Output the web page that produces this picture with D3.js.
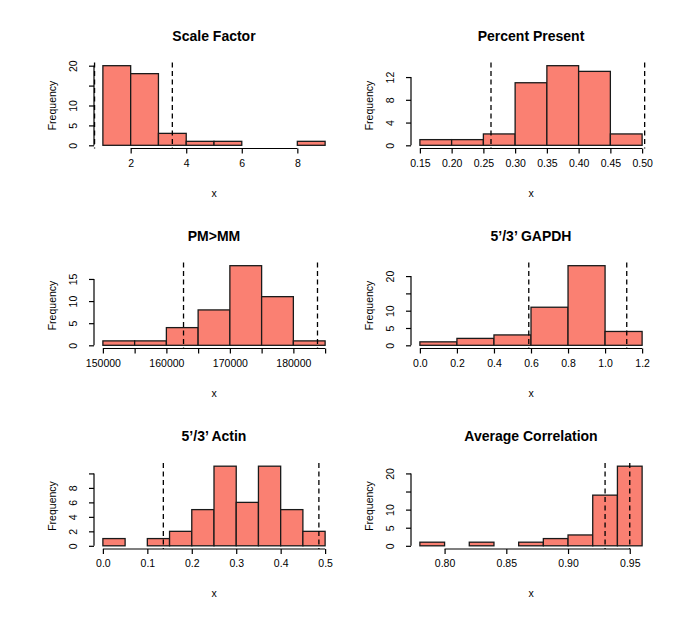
<!DOCTYPE html>
<html>
<head>
<meta charset="utf-8">
<script src="https://cdn.jsdelivr.net/npm/d3@7"></script>
<style>
  html, body { margin: 0; padding: 0; background: #fff; }
  svg { display: block; }
  text { font-family: "Liberation Sans", Arial, Helvetica, sans-serif; fill: #000; }
</style>
</head>
<body>
<svg id="chart" width="685" height="622"></svg>
<script>
// ---- Data ----
const titles = ["Scale Factor", "Percent Present", "PM>MM", "5’/3’ GAPDH", "5’/3’ Actin", "Average Correlation"];

const sfBreaks = [1, 2, 3, 4, 5, 6, 7, 8, 9];
const sfCounts = [20, 18, 3, 1, 1, 0, 0, 1];
const sfLines = [0.7, 3.5];
const sfXTicks = [2, 4, 6, 8];
const sfXLabels = ["2", "4", "6", "8"];
const sfYTicks = [0, 5, 10, 15, 20];
const sfYLabels = ["0", "5", "10", "", "20"];

const ppBreaks = [0.15, 0.20, 0.25, 0.30, 0.35, 0.40, 0.45, 0.50];
const ppCounts = [1, 1, 2, 11, 14, 13, 2];
const ppLines = [0.262, 0.504];
const ppXTicks = [0.15, 0.20, 0.25, 0.30, 0.35, 0.40, 0.45, 0.50];
const ppXLabels = ["0.15", "0.20", "0.25", "0.30", "0.35", "0.40", "0.45", "0.50"];
const ppYTicks = [0, 4, 8, 12];
const ppYLabels = ["0", "4", "8", "12"];

const pmBreaks = [150000, 155000, 160000, 165000, 170000, 175000, 180000, 185000];
const pmCounts = [1, 1, 4, 8, 18, 11, 1];
const pmLines = [162700, 183800];
const pmXTicks = [150000, 155000, 160000, 165000, 170000, 175000, 180000, 185000];
const pmXLabels = ["150000", "", "160000", "", "170000", "", "180000", ""];
const pmYTicks = [0, 5, 10, 15];
const pmYLabels = ["0", "5", "10", "15"];

const gaBreaks = [0.0, 0.2, 0.4, 0.6, 0.8, 1.0, 1.2];
const gaCounts = [1, 2, 3, 11, 23, 4];
const gaLines = [0.588, 1.117];
const gaXTicks = [0.0, 0.2, 0.4, 0.6, 0.8, 1.0, 1.2];
const gaXLabels = ["0.0", "0.2", "0.4", "0.6", "0.8", "1.0", "1.2"];
const gaYTicks = [0, 5, 10, 15, 20];
const gaYLabels = ["0", "5", "10", "", "20"];

const acBreaks = [0.00, 0.05, 0.10, 0.15, 0.20, 0.25, 0.30, 0.35, 0.40, 0.45, 0.50];
const acCounts = [1, 0, 1, 2, 5, 11, 6, 11, 5, 2];
const acLines = [0.136, 0.486];
const acXTicks = [0.0, 0.1, 0.2, 0.3, 0.4, 0.5];
const acXLabels = ["0.0", "0.1", "0.2", "0.3", "0.4", "0.5"];
const acYTicks = [0, 2, 4, 6, 8, 10];
const acYLabels = ["0", "2", "4", "6", "8", ""];

const coBreaks = [0.78, 0.80, 0.82, 0.84, 0.86, 0.88, 0.90, 0.92, 0.94, 0.96];
const coCounts = [1, 0, 1, 0, 1, 2, 3, 14, 22];
const coLines = [0.93, 0.95];
const coXTicks = [0.80, 0.85, 0.90, 0.95];
const coXLabels = ["0.80", "0.85", "0.90", "0.95"];
const coYTicks = [0, 5, 10, 15, 20];
const coYLabels = ["0", "5", "10", "", "20"];

const panels = [
  { title: titles[0], breaks: sfBreaks, counts: sfCounts, lines: sfLines, xt: sfXTicks, xl: sfXLabels, yt: sfYTicks, yl: sfYLabels },
  { title: titles[1], breaks: ppBreaks, counts: ppCounts, lines: ppLines, xt: ppXTicks, xl: ppXLabels, yt: ppYTicks, yl: ppYLabels },
  { title: titles[2], breaks: pmBreaks, counts: pmCounts, lines: pmLines, xt: pmXTicks, xl: pmXLabels, yt: pmYTicks, yl: pmYLabels },
  { title: titles[3], breaks: gaBreaks, counts: gaCounts, lines: gaLines, xt: gaXTicks, xl: gaXLabels, yt: gaYTicks, yl: gaYLabels },
  { title: titles[4], breaks: acBreaks, counts: acCounts, lines: acLines, xt: acXTicks, xl: acXLabels, yt: acYTicks, yl: acYLabels },
  { title: titles[5], breaks: coBreaks, counts: coCounts, lines: coLines, xt: coXTicks, xl: coXLabels, yt: coYTicks, yl: coYLabels }
];

// ---- Layout ----
const colX = [94, 411];
const rowY = [62.5, 262.5, 463];
const plotW = 240, plotH = 86;
const svg = d3.select("#chart");

panels.forEach((p, i) => {
  const col = i % 2, row = Math.floor(i / 2);
  const x0 = colX[col], y0 = rowY[row];
  const g = svg.append("g").attr("transform", `translate(${x0},${y0})`);

  const bmin = p.breaks[0], bmax = p.breaks[p.breaks.length - 1];
  const pad = (bmax - bmin) * 0.04;
  const ymax = d3.max(p.counts);
  const x = d3.scaleLinear().domain([bmin - pad, bmax + pad]).range([0, plotW]);
  const y = d3.scaleLinear().domain([-ymax * 0.04, ymax * 1.04]).range([plotH, 0]);

  const bins = p.counts.map((c, k) => ({ a: p.breaks[k], b: p.breaks[k + 1], c }));

  // bars
  g.selectAll("rect.bar").data(bins).enter().append("rect")
    .attr("class", "bar")
    .attr("x", d => x(d.a))
    .attr("width", d => x(d.b) - x(d.a))
    .attr("y", d => y(d.c))
    .attr("height", d => y(0) - y(d.c))
    .attr("fill", "#fa8072")
    .attr("stroke", "#1a1a1a")
    .attr("stroke-width", 1.3);

  // dashed reference lines
  g.selectAll("line.ref").data(p.lines).enter().append("line")
    .attr("x1", d => x(d)).attr("x2", d => x(d))
    .attr("y1", 0).attr("y2", plotH)
    .attr("stroke", "#000").attr("stroke-width", 1.3)
    .attr("stroke-dasharray", "5,3.5");

  // x axis (R style: line from first to last tick)
  const xAxis = d3.axisBottom(x).tickValues(p.xt).tickSize(5).tickPadding(6)
    .tickFormat((d, k) => p.xl[k]);
  const xg = g.append("g").attr("transform", `translate(0,${plotH})`).call(xAxis);
  xg.select(".domain").remove();
  xg.append("line")
    .attr("x1", x(p.xt[0])).attr("x2", x(p.xt[p.xt.length - 1]))
    .attr("y1", 0).attr("y2", 0).attr("stroke", "#000").attr("stroke-width", 1.2);
  xg.selectAll(".tick line").attr("stroke", "#000").attr("stroke-width", 1.2);
  xg.selectAll(".tick text").attr("font-size", "10.5px").attr("fill", "#000")
    .style("font-family", "'Liberation Sans', Arial, sans-serif");

  // y axis
  const yAxis = d3.axisLeft(y).tickValues(p.yt).tickSize(5).tickPadding(0)
    .tickFormat((d, k) => p.yl[k]);
  const yg = g.append("g").call(yAxis);
  yg.select(".domain").remove();
  yg.append("line")
    .attr("x1", 0).attr("x2", 0)
    .attr("y1", y(p.yt[0])).attr("y2", y(p.yt[p.yt.length - 1]))
    .attr("stroke", "#000").attr("stroke-width", 1.2);
  yg.selectAll(".tick line").attr("stroke", "#000").attr("stroke-width", 1.2);
  yg.selectAll(".tick text")
    .attr("x", 0).attr("dy", null)
    .attr("transform", "translate(-17,0) rotate(-90)")
    .attr("text-anchor", "middle")
    .attr("font-size", "10.5px").attr("fill", "#000")
    .style("font-family", "'Liberation Sans', Arial, sans-serif");

  // title
  g.append("text")
    .attr("x", plotW / 2).attr("y", -22)
    .attr("text-anchor", "middle")
    .attr("font-size", "14px").attr("font-weight", "bold")
    .text(p.title);

  // axis titles
  g.append("text")
    .attr("x", x((bmin + bmax) / 2)).attr("y", plotH + 48)
    .attr("text-anchor", "middle").attr("font-size", "10.5px")
    .text("x");
  g.append("text")
    .attr("transform", `translate(-38,${plotH / 2}) rotate(-90)`)
    .attr("text-anchor", "middle").attr("font-size", "10.5px")
    .text("Frequency");
});
</script>
</body>
</html>
